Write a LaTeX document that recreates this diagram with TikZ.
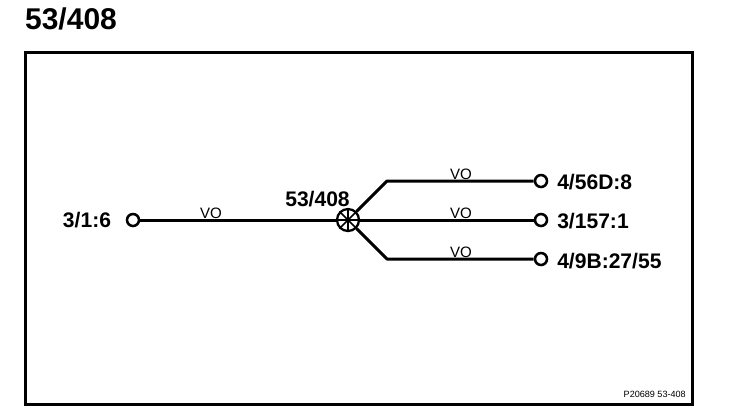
\documentclass[tikz,border=0pt]{standalone}
\usepackage{fontspec}
\setmainfont{Liberation Sans}
\usetikzlibrary{positioning}
\tikzset{arista/.style={line width=2.25pt},
         marco/.style={line width=2.25pt},
         terminal/.style={draw,circle,line width=1.9pt,fill=white,minimum size=9pt,inner sep=0pt},
         cruce/.style={draw,circle,line width=1.7pt,fill=white,minimum size=16.5pt,inner sep=0pt},
         radio/.style={line width=1.3pt},
         etiqueta/.style={font=\fontsize{15.8}{18}\selectfont\bfseries,inner sep=0pt},
         medio/.style={font=\fontsize{11.3}{13}\selectfont,inner sep=0pt},
         titulo/.style={font=\fontsize{22.5}{25}\selectfont\bfseries,inner sep=0pt},
         codigo/.style={font=\fontsize{6.8}{8}\selectfont,inner sep=0pt}}

\begin{document}
\begin{tikzpicture}[x=0.75pt,y=-0.75pt]
    \useasboundingbox (0,0) rectangle (752,412);
    \node[titulo] (title) at (71,19) {53/408};
    \node[draw,marco,minimum width=500.25pt,minimum height=264pt,inner sep=0pt] (frame) at (358.5,228) {};

    \node[cruce] (hub) at (348,220) {};
    \node[terminal] (t0) at (133,220) {};
    \node[terminal] (t1) at (541,181) {};
    \node[terminal] (t2) at (541,220) {};
    \node[terminal] (t3) at (541,259) {};
    \coordinate (e1) at (387,181);
    \coordinate (e3) at (387,259);

    \draw[arista] (t0) to (hub);
    \draw[arista,line join=round] (hub) -- (e1) -- (t1);
    \draw[arista] (hub) to (t2);
    \draw[arista,line join=round] (hub) -- (e3) -- (t3);
    \foreach \a in {0,45,90,135}
        \draw[radio] (hub.\a) -- (hub.\a+180);

    \node[etiqueta] (l0) at (87,220) {3/1:6};
    \node[etiqueta] (lhub) at (317.5,199) {53/408};
    \node[etiqueta,anchor=west] (l1) at (557,182) {4/56D:8};
    \node[etiqueta,anchor=west] (l2) at (557,221) {3/157:1};
    \node[etiqueta,anchor=west] (l3) at (557,261) {4/9B:27/55};

    \node[medio] (v0) at (211,213) {VO};
    \node[medio] (v1) at (461,174) {VO};
    \node[medio] (v2) at (461,213) {VO};
    \node[medio] (v3) at (461,252) {VO};
    \node[codigo,anchor=east] (ref) at (686,394) {P20689 53-408};
\end{tikzpicture}
\end{document}
